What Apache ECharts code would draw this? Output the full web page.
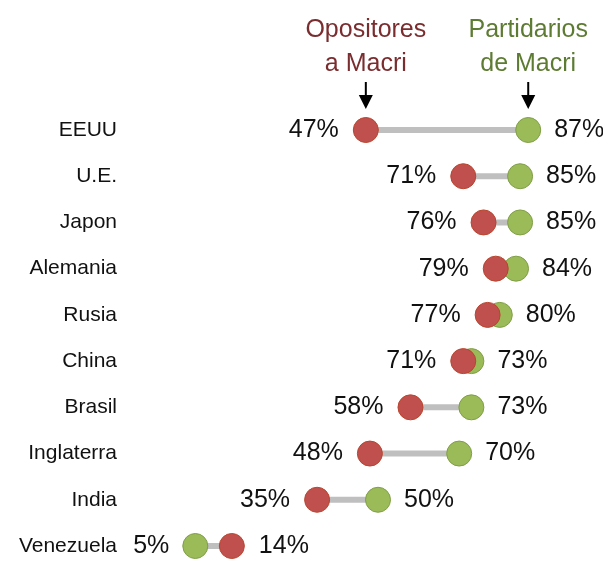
<!DOCTYPE html>
<html>
<head>
<meta charset="utf-8">
<script src="https://cdn.jsdelivr.net/npm/echarts@6/dist/echarts.min.js"></script>
<style>
html,body{margin:0;padding:0;background:#fff;}
#main{width:603px;height:561px;}
</style>
</head>
<body>
<div id="main"></div>
<script>
// datos: paises y % de opinion
var countries = ['EEUU','U.E.','Japon','Alemania','Rusia','China','Brasil','Inglaterra','India','Venezuela'];
var opositores = [47,71,76,79,77,71,58,48,35,14];
var partidarios = [87,85,85,84,80,73,73,70,50,5];
var headerOpo = 'Opositores\na Macri';
var headerPar = 'Partidarios\nde Macri';

var FONT = '"Liberation Sans", Arial, sans-serif';
var RED = '#C0504D', GREEN = '#9BBB59';

//base de la barra gris = el menor, largo = diferencia
var baseArr = [], gapArr = [];
for(var i=0;i<countries.length;i++){
	baseArr.push(Math.min(opositores[i],partidarios[i]));
	gapArr.push(Math.abs(opositores[i]-partidarios[i]));
}

function dots(vals, other){
	var arr = [];
	for(var i=0;i<vals.length;i++){
		arr.push({
			value:[vals[i], countries[i]],
			label:{position: vals[i] <= other[i] ? 'left' : 'right'}
		});
	}
	return arr;
}

var chart = echarts.init(document.getElementById('main'));
var option = {
	animation:false,
	grid:{left:175, right:22, top:130, bottom:15},
	xAxis:{type:'value', min:0, max:100, show:false},
	yAxis:{
		type:'category', data:countries, inverse:true, boundaryGap:false,
		axisLine:{show:false}, axisTick:{show:false}, splitLine:{show:false},
		axisLabel:{fontFamily:FONT, fontSize:21, color:'#111', margin:58}
	},
	series:[
		{type:'bar', stack:'s', data:baseArr, barWidth:6, itemStyle:{color:'transparent'}, silent:true},
		{type:'bar', stack:'s', data:gapArr, barWidth:6, itemStyle:{color:'#BFBFBF'}, silent:true},
		{
			type:'scatter', data:dots(partidarios, opositores), symbolSize:25,
			itemStyle:{color:GREEN, borderColor:'#7F9E45', borderWidth:1, opacity:1},
			label:{show:true, distance:13, fontFamily:FONT, fontSize:25, color:'#111',
				formatter:function(p){return p.value[0]+'%';}}
		},
		{
			type:'scatter', data:dots(opositores, partidarios), symbolSize:25,
			itemStyle:{color:RED, borderColor:'#B8452E', borderWidth:1, opacity:1},
			label:{show:true, distance:14, fontFamily:FONT, fontSize:25, color:'#111',
				formatter:function(p){return p.value[0]+'%';}}
		}
	]
};
chart.setOption(option);

//encabezados con flecha sobre el primer pais
function header(val, txt, col){
	var p = chart.convertToPixel({gridIndex:0}, [val, countries[0]]);
	return [
		{type:'text', x:p[0], y:p[1]-117, style:{text:txt, fill:col, font:'25px '+FONT,
			align:'center', verticalAlign:'top', lineHeight:34}},
		{type:'line', shape:{x1:p[0], y1:p[1]-48, x2:p[0], y2:p[1]-32}, style:{stroke:'#000', lineWidth:2}},
		{type:'polygon', shape:{points:[[p[0]-7,p[1]-35],[p[0]+7,p[1]-35],[p[0],p[1]-21]]}, style:{fill:'#000'}}
	];
}
chart.setOption({graphic:header(opositores[0], headerOpo, '#7A2D2F').concat(header(partidarios[0], headerPar, '#5E7B33'))});
</script>
</body>
</html>
